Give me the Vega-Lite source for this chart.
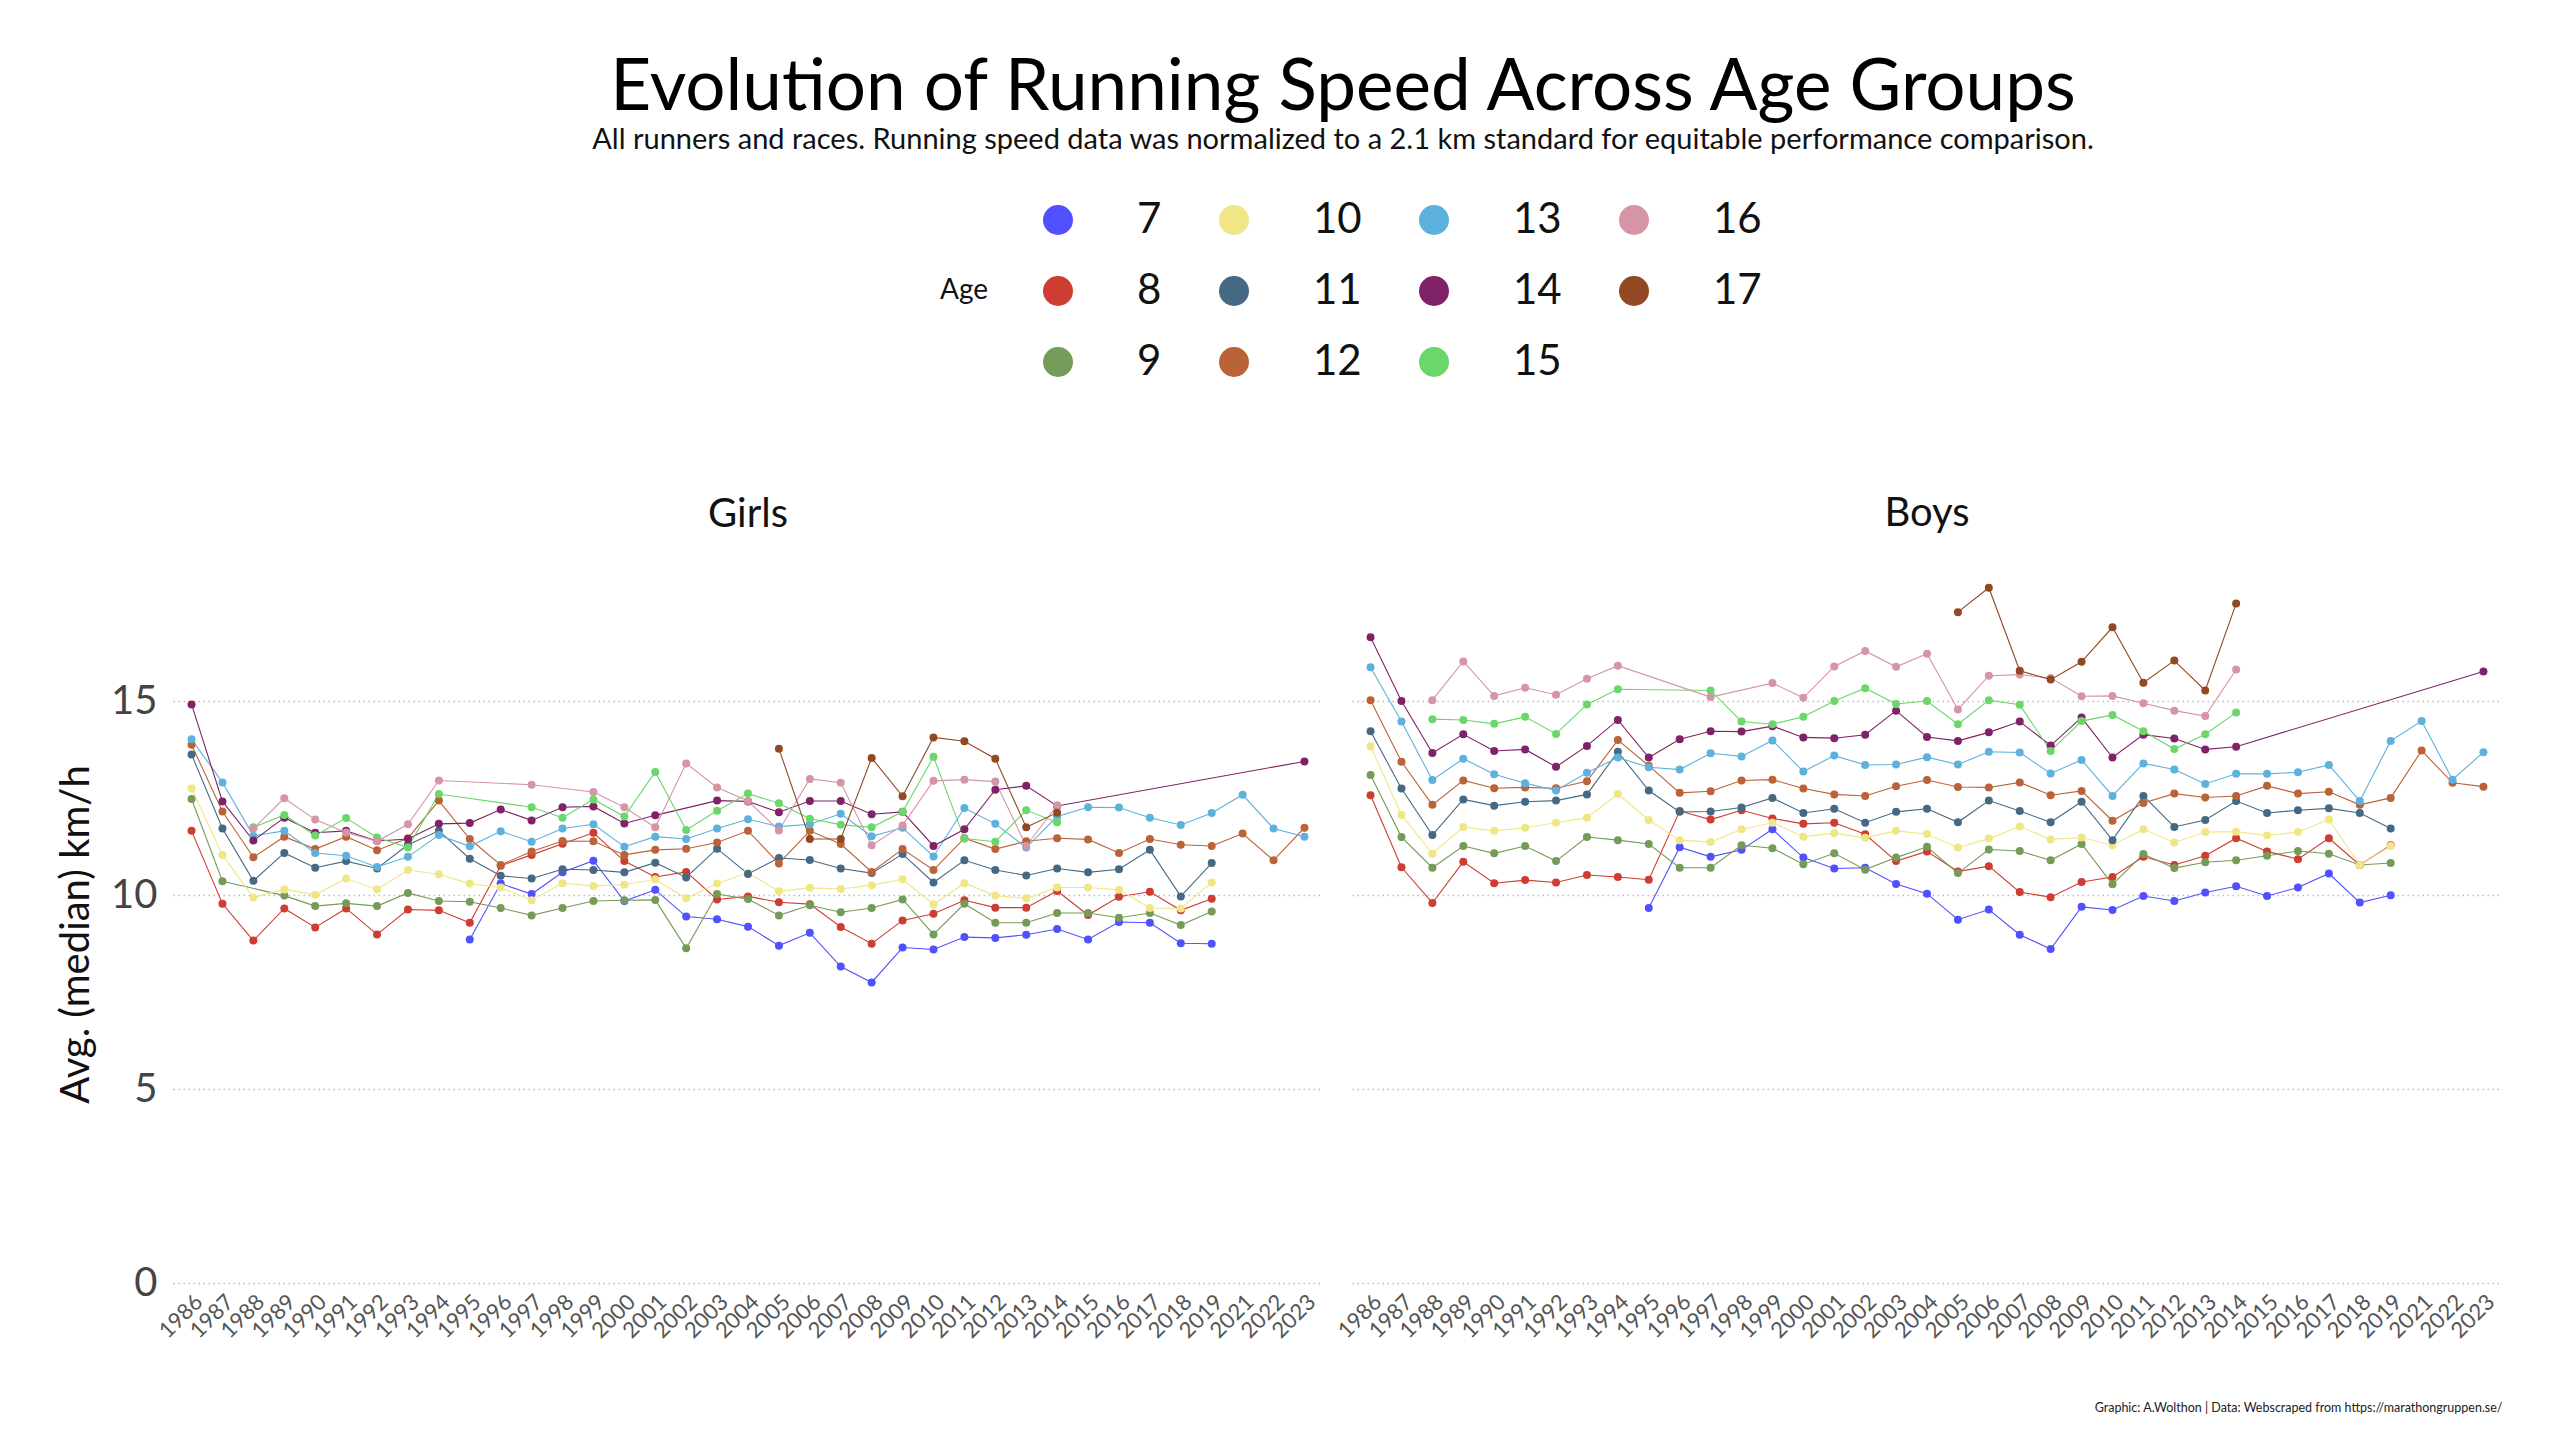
{
  "$schema": "https://vega.github.io/schema/vega-lite/v6.json",
  "background": "white",
  "padding": {"left": 56, "top": 53, "right": 20, "bottom": 10},
  "config": {"font": "Lato", "view": {"stroke": null}},
  "title": {"text": "Evolution of Running Speed Across Age Groups", "subtitle": "All runners and races. Running speed data was normalized to a 2.1 km standard for equitable performance comparison.", "anchor": "middle", "frame": "group", "dx": 1170, "fontSize": 71, "fontWeight": "normal", "color": "#000", "subtitleFontSize": 29, "subtitleColor": "#111", "subtitlePadding": 1, "offset": 43},
  "datasets": {
    "girls": [
      {"age":7,"year":"1995","speed":8.86},{"age":7,"year":"1996","speed":10.30},{"age":7,"year":"1997","speed":10.03},{"age":7,"year":"1998","speed":10.59},{"age":7,"year":"1999","speed":10.89},{"age":7,"year":"2000","speed":9.85},{"age":7,"year":"2001","speed":10.14},{"age":7,"year":"2002","speed":9.45},{"age":7,"year":"2003","speed":9.38},{"age":7,"year":"2004","speed":9.19},{"age":7,"year":"2005","speed":8.70},{"age":7,"year":"2006","speed":9.03},{"age":7,"year":"2007","speed":8.16},{"age":7,"year":"2008","speed":7.75},{"age":7,"year":"2009","speed":8.65},{"age":7,"year":"2010","speed":8.60},{"age":7,"year":"2011","speed":8.92},{"age":7,"year":"2012","speed":8.90},{"age":7,"year":"2013","speed":8.98},{"age":7,"year":"2014","speed":9.13},{"age":7,"year":"2015","speed":8.86},{"age":7,"year":"2016","speed":9.31},{"age":7,"year":"2017","speed":9.29},{"age":7,"year":"2018","speed":8.76},{"age":7,"year":"2019","speed":8.75},
      {"age":8,"year":"1986","speed":11.66},{"age":8,"year":"1987","speed":9.78},{"age":8,"year":"1988","speed":8.83},{"age":8,"year":"1989","speed":9.66},{"age":8,"year":"1990","speed":9.17},{"age":8,"year":"1991","speed":9.66},{"age":8,"year":"1992","speed":8.99},{"age":8,"year":"1993","speed":9.63},{"age":8,"year":"1994","speed":9.61},{"age":8,"year":"1995","speed":9.29},{"age":8,"year":"1996","speed":10.76},{"age":8,"year":"1997","speed":11.04},{"age":8,"year":"1998","speed":11.33},{"age":8,"year":"1999","speed":11.61},{"age":8,"year":"2000","speed":10.88},{"age":8,"year":"2001","speed":10.47},{"age":8,"year":"2002","speed":10.60},{"age":8,"year":"2003","speed":9.89},{"age":8,"year":"2004","speed":9.97},{"age":8,"year":"2005","speed":9.82},{"age":8,"year":"2006","speed":9.77},{"age":8,"year":"2007","speed":9.18},{"age":8,"year":"2008","speed":8.75},{"age":8,"year":"2009","speed":9.35},{"age":8,"year":"2010","speed":9.52},{"age":8,"year":"2011","speed":9.87},{"age":8,"year":"2012","speed":9.68},{"age":8,"year":"2013","speed":9.68},{"age":8,"year":"2014","speed":10.11},{"age":8,"year":"2015","speed":9.49},{"age":8,"year":"2016","speed":9.96},{"age":8,"year":"2017","speed":10.09},{"age":8,"year":"2018","speed":9.61},{"age":8,"year":"2019","speed":9.91},
      {"age":9,"year":"1986","speed":12.48},{"age":9,"year":"1987","speed":10.36},{"age":9,"year":"1989","speed":9.99},{"age":9,"year":"1990","speed":9.72},{"age":9,"year":"1991","speed":9.79},{"age":9,"year":"1992","speed":9.72},{"age":9,"year":"1993","speed":10.06},{"age":9,"year":"1994","speed":9.85},{"age":9,"year":"1995","speed":9.83},{"age":9,"year":"1996","speed":9.67},{"age":9,"year":"1997","speed":9.48},{"age":9,"year":"1998","speed":9.67},{"age":9,"year":"1999","speed":9.85},{"age":9,"year":"2000","speed":9.87},{"age":9,"year":"2001","speed":9.88},{"age":9,"year":"2002","speed":8.63},{"age":9,"year":"2003","speed":10.03},{"age":9,"year":"2004","speed":9.90},{"age":9,"year":"2005","speed":9.48},{"age":9,"year":"2006","speed":9.74},{"age":9,"year":"2007","speed":9.56},{"age":9,"year":"2008","speed":9.67},{"age":9,"year":"2009","speed":9.89},{"age":9,"year":"2010","speed":8.99},{"age":9,"year":"2011","speed":9.78},{"age":9,"year":"2012","speed":9.29},{"age":9,"year":"2013","speed":9.29},{"age":9,"year":"2014","speed":9.54},{"age":9,"year":"2015","speed":9.54},{"age":9,"year":"2016","speed":9.42},{"age":9,"year":"2017","speed":9.54},{"age":9,"year":"2018","speed":9.23},{"age":9,"year":"2019","speed":9.58},
      {"age":10,"year":"1986","speed":12.75},{"age":10,"year":"1987","speed":11.04},{"age":10,"year":"1988","speed":9.94},{"age":10,"year":"1989","speed":10.15},{"age":10,"year":"1990","speed":10.01},{"age":10,"year":"1991","speed":10.43},{"age":10,"year":"1992","speed":10.15},{"age":10,"year":"1993","speed":10.65},{"age":10,"year":"1994","speed":10.54},{"age":10,"year":"1995","speed":10.30},{"age":10,"year":"1996","speed":10.20},{"age":10,"year":"1997","speed":9.87},{"age":10,"year":"1998","speed":10.31},{"age":10,"year":"1999","speed":10.24},{"age":10,"year":"2000","speed":10.27},{"age":10,"year":"2001","speed":10.41},{"age":10,"year":"2002","speed":9.92},{"age":10,"year":"2003","speed":10.30},{"age":10,"year":"2004","speed":10.58},{"age":10,"year":"2005","speed":10.10},{"age":10,"year":"2006","speed":10.19},{"age":10,"year":"2007","speed":10.16},{"age":10,"year":"2008","speed":10.26},{"age":10,"year":"2009","speed":10.41},{"age":10,"year":"2010","speed":9.76},{"age":10,"year":"2011","speed":10.31},{"age":10,"year":"2012","speed":9.99},{"age":10,"year":"2013","speed":9.92},{"age":10,"year":"2014","speed":10.20},{"age":10,"year":"2015","speed":10.20},{"age":10,"year":"2016","speed":10.14},{"age":10,"year":"2017","speed":9.67},{"age":10,"year":"2018","speed":9.66},{"age":10,"year":"2019","speed":10.33},
      {"age":11,"year":"1986","speed":13.63},{"age":11,"year":"1987","speed":11.72},{"age":11,"year":"1988","speed":10.37},{"age":11,"year":"1989","speed":11.09},{"age":11,"year":"1990","speed":10.71},{"age":11,"year":"1991","speed":10.88},{"age":11,"year":"1992","speed":10.69},{"age":11,"year":"1993","speed":11.30},{"age":11,"year":"1994","speed":11.66},{"age":11,"year":"1995","speed":10.94},{"age":11,"year":"1996","speed":10.50},{"age":11,"year":"1997","speed":10.43},{"age":11,"year":"1998","speed":10.67},{"age":11,"year":"1999","speed":10.65},{"age":11,"year":"2000","speed":10.59},{"age":11,"year":"2001","speed":10.84},{"age":11,"year":"2002","speed":10.46},{"age":11,"year":"2003","speed":11.20},{"age":11,"year":"2004","speed":10.55},{"age":11,"year":"2005","speed":10.96},{"age":11,"year":"2006","speed":10.91},{"age":11,"year":"2007","speed":10.69},{"age":11,"year":"2008","speed":10.57},{"age":11,"year":"2009","speed":11.06},{"age":11,"year":"2010","speed":10.33},{"age":11,"year":"2011","speed":10.90},{"age":11,"year":"2012","speed":10.65},{"age":11,"year":"2013","speed":10.51},{"age":11,"year":"2014","speed":10.69},{"age":11,"year":"2015","speed":10.59},{"age":11,"year":"2016","speed":10.67},{"age":11,"year":"2017","speed":11.17},{"age":11,"year":"2018","speed":9.97},{"age":11,"year":"2019","speed":10.83},
      {"age":12,"year":"1986","speed":13.88},{"age":12,"year":"1987","speed":12.16},{"age":12,"year":"1988","speed":10.98},{"age":12,"year":"1989","speed":11.51},{"age":12,"year":"1990","speed":11.19},{"age":12,"year":"1991","speed":11.51},{"age":12,"year":"1992","speed":11.16},{"age":12,"year":"1993","speed":11.47},{"age":12,"year":"1994","speed":12.44},{"age":12,"year":"1995","speed":11.45},{"age":12,"year":"1996","speed":10.78},{"age":12,"year":"1997","speed":11.13},{"age":12,"year":"1998","speed":11.40},{"age":12,"year":"1999","speed":11.39},{"age":12,"year":"2000","speed":11.04},{"age":12,"year":"2001","speed":11.17},{"age":12,"year":"2002","speed":11.20},{"age":12,"year":"2003","speed":11.36},{"age":12,"year":"2004","speed":11.66},{"age":12,"year":"2005","speed":10.82},{"age":12,"year":"2006","speed":11.66},{"age":12,"year":"2007","speed":11.32},{"age":12,"year":"2008","speed":10.60},{"age":12,"year":"2009","speed":11.19},{"age":12,"year":"2010","speed":10.65},{"age":12,"year":"2011","speed":11.47},{"age":12,"year":"2012","speed":11.19},{"age":12,"year":"2013","speed":11.39},{"age":12,"year":"2014","speed":11.47},{"age":12,"year":"2015","speed":11.44},{"age":12,"year":"2016","speed":11.09},{"age":12,"year":"2017","speed":11.45},{"age":12,"year":"2018","speed":11.30},{"age":12,"year":"2019","speed":11.27},{"age":12,"year":"2021","speed":11.59},{"age":12,"year":"2022","speed":10.90},{"age":12,"year":"2023","speed":11.74},
      {"age":13,"year":"1986","speed":14.02},{"age":13,"year":"1987","speed":12.91},{"age":13,"year":"1988","speed":11.53},{"age":13,"year":"1989","speed":11.66},{"age":13,"year":"1990","speed":11.09},{"age":13,"year":"1991","speed":11.02},{"age":13,"year":"1992","speed":10.73},{"age":13,"year":"1993","speed":10.99},{"age":13,"year":"1994","speed":11.55},{"age":13,"year":"1995","speed":11.26},{"age":13,"year":"1996","speed":11.65},{"age":13,"year":"1997","speed":11.38},{"age":13,"year":"1998","speed":11.72},{"age":13,"year":"1999","speed":11.83},{"age":13,"year":"2000","speed":11.25},{"age":13,"year":"2001","speed":11.51},{"age":13,"year":"2002","speed":11.45},{"age":13,"year":"2003","speed":11.72},{"age":13,"year":"2004","speed":11.96},{"age":13,"year":"2005","speed":11.77},{"age":13,"year":"2006","speed":11.83},{"age":13,"year":"2007","speed":12.10},{"age":13,"year":"2008","speed":11.52},{"age":13,"year":"2009","speed":11.74},{"age":13,"year":"2010","speed":11.00},{"age":13,"year":"2011","speed":12.25},{"age":13,"year":"2012","speed":11.84},{"age":13,"year":"2013","speed":11.23},{"age":13,"year":"2014","speed":12.03},{"age":13,"year":"2015","speed":12.27},{"age":13,"year":"2016","speed":12.26},{"age":13,"year":"2017","speed":12.00},{"age":13,"year":"2018","speed":11.81},{"age":13,"year":"2019","speed":12.12},{"age":13,"year":"2021","speed":12.59},{"age":13,"year":"2022","speed":11.72},{"age":13,"year":"2023","speed":11.51},
      {"age":14,"year":"1986","speed":14.92},{"age":14,"year":"1987","speed":12.42},{"age":14,"year":"1988","speed":11.41},{"age":14,"year":"1989","speed":12.00},{"age":14,"year":"1990","speed":11.61},{"age":14,"year":"1991","speed":11.66},{"age":14,"year":"1992","speed":11.40},{"age":14,"year":"1993","speed":11.45},{"age":14,"year":"1994","speed":11.84},{"age":14,"year":"1995","speed":11.86},{"age":14,"year":"1996","speed":12.21},{"age":14,"year":"1997","speed":11.93},{"age":14,"year":"1998","speed":12.27},{"age":14,"year":"1999","speed":12.29},{"age":14,"year":"2000","speed":11.85},{"age":14,"year":"2001","speed":12.06},{"age":14,"year":"2003","speed":12.44},{"age":14,"year":"2004","speed":12.42},{"age":14,"year":"2005","speed":12.14},{"age":14,"year":"2006","speed":12.43},{"age":14,"year":"2007","speed":12.43},{"age":14,"year":"2008","speed":12.09},{"age":14,"year":"2009","speed":12.15},{"age":14,"year":"2010","speed":11.27},{"age":14,"year":"2011","speed":11.70},{"age":14,"year":"2012","speed":12.72},{"age":14,"year":"2013","speed":12.82},{"age":14,"year":"2014","speed":12.30},{"age":14,"year":"2023","speed":13.45},
      {"age":15,"year":"1988","speed":11.75},{"age":15,"year":"1989","speed":12.07},{"age":15,"year":"1990","speed":11.54},{"age":15,"year":"1991","speed":11.99},{"age":15,"year":"1992","speed":11.49},{"age":15,"year":"1993","speed":11.23},{"age":15,"year":"1994","speed":12.61},{"age":15,"year":"1997","speed":12.27},{"age":15,"year":"1998","speed":12.00},{"age":15,"year":"1999","speed":12.47},{"age":15,"year":"2000","speed":12.03},{"age":15,"year":"2001","speed":13.18},{"age":15,"year":"2002","speed":11.68},{"age":15,"year":"2003","speed":12.18},{"age":15,"year":"2004","speed":12.62},{"age":15,"year":"2005","speed":12.37},{"age":15,"year":"2006","speed":11.97},{"age":15,"year":"2007","speed":11.82},{"age":15,"year":"2008","speed":11.75},{"age":15,"year":"2009","speed":12.15},{"age":15,"year":"2010","speed":13.57},{"age":15,"year":"2011","speed":11.46},{"age":15,"year":"2012","speed":11.38},{"age":15,"year":"2013","speed":12.19},{"age":15,"year":"2014","speed":11.88},
      {"age":16,"year":"1988","speed":11.72},{"age":16,"year":"1989","speed":12.50},{"age":16,"year":"1990","speed":11.95},{"age":16,"year":"1991","speed":11.62},{"age":16,"year":"1992","speed":11.39},{"age":16,"year":"1993","speed":11.83},{"age":16,"year":"1994","speed":12.96},{"age":16,"year":"1997","speed":12.85},{"age":16,"year":"1999","speed":12.66},{"age":16,"year":"2000","speed":12.27},{"age":16,"year":"2001","speed":11.75},{"age":16,"year":"2002","speed":13.40},{"age":16,"year":"2003","speed":12.78},{"age":16,"year":"2004","speed":12.43},{"age":16,"year":"2005","speed":11.67},{"age":16,"year":"2006","speed":13.00},{"age":16,"year":"2007","speed":12.90},{"age":16,"year":"2008","speed":11.29},{"age":16,"year":"2009","speed":11.80},{"age":16,"year":"2010","speed":12.95},{"age":16,"year":"2011","speed":12.98},{"age":16,"year":"2012","speed":12.93},{"age":16,"year":"2013","speed":11.27},{"age":16,"year":"2014","speed":12.32},
      {"age":17,"year":"2005","speed":13.78},{"age":17,"year":"2006","speed":11.45},{"age":17,"year":"2007","speed":11.45},{"age":17,"year":"2008","speed":13.54},{"age":17,"year":"2009","speed":12.55},{"age":17,"year":"2010","speed":14.07},{"age":17,"year":"2011","speed":13.97},{"age":17,"year":"2012","speed":13.52},{"age":17,"year":"2013","speed":11.75},{"age":17,"year":"2014","speed":12.13}
    ],
    "boys": [
      {"age":7,"year":"1995","speed":9.67},{"age":7,"year":"1996","speed":11.24},{"age":7,"year":"1997","speed":10.99},{"age":7,"year":"1998","speed":11.17},{"age":7,"year":"1999","speed":11.70},{"age":7,"year":"2000","speed":10.97},{"age":7,"year":"2001","speed":10.69},{"age":7,"year":"2002","speed":10.71},{"age":7,"year":"2003","speed":10.29},{"age":7,"year":"2004","speed":10.04},{"age":7,"year":"2005","speed":9.37},{"age":7,"year":"2006","speed":9.63},{"age":7,"year":"2007","speed":8.98},{"age":7,"year":"2008","speed":8.61},{"age":7,"year":"2009","speed":9.70},{"age":7,"year":"2010","speed":9.62},{"age":7,"year":"2011","speed":9.98},{"age":7,"year":"2012","speed":9.85},{"age":7,"year":"2013","speed":10.07},{"age":7,"year":"2014","speed":10.23},{"age":7,"year":"2015","speed":9.98},{"age":7,"year":"2016","speed":10.20},{"age":7,"year":"2017","speed":10.56},{"age":7,"year":"2018","speed":9.81},{"age":7,"year":"2019","speed":10.00},
      {"age":8,"year":"1986","speed":12.58},{"age":8,"year":"1987","speed":10.72},{"age":8,"year":"1988","speed":9.80},{"age":8,"year":"1989","speed":10.86},{"age":8,"year":"1990","speed":10.31},{"age":8,"year":"1991","speed":10.39},{"age":8,"year":"1992","speed":10.33},{"age":8,"year":"1993","speed":10.52},{"age":8,"year":"1994","speed":10.47},{"age":8,"year":"1995","speed":10.40},{"age":8,"year":"1996","speed":12.17},{"age":8,"year":"1997","speed":11.95},{"age":8,"year":"1998","speed":12.19},{"age":8,"year":"1999","speed":11.98},{"age":8,"year":"2000","speed":11.84},{"age":8,"year":"2001","speed":11.87},{"age":8,"year":"2002","speed":11.57},{"age":8,"year":"2003","speed":10.88},{"age":8,"year":"2004","speed":11.13},{"age":8,"year":"2005","speed":10.61},{"age":8,"year":"2006","speed":10.75},{"age":8,"year":"2007","speed":10.08},{"age":8,"year":"2008","speed":9.95},{"age":8,"year":"2009","speed":10.34},{"age":8,"year":"2010","speed":10.47},{"age":8,"year":"2011","speed":10.99},{"age":8,"year":"2012","speed":10.78},{"age":8,"year":"2013","speed":11.02},{"age":8,"year":"2014","speed":11.47},{"age":8,"year":"2015","speed":11.13},{"age":8,"year":"2016","speed":10.93},{"age":8,"year":"2017","speed":11.47},{"age":8,"year":"2018","speed":10.78},{"age":8,"year":"2019","speed":11.29},
      {"age":9,"year":"1986","speed":13.10},{"age":9,"year":"1987","speed":11.50},{"age":9,"year":"1988","speed":10.71},{"age":9,"year":"1989","speed":11.27},{"age":9,"year":"1990","speed":11.08},{"age":9,"year":"1991","speed":11.27},{"age":9,"year":"1992","speed":10.88},{"age":9,"year":"1993","speed":11.50},{"age":9,"year":"1994","speed":11.42},{"age":9,"year":"1995","speed":11.32},{"age":9,"year":"1996","speed":10.71},{"age":9,"year":"1997","speed":10.71},{"age":9,"year":"1998","speed":11.29},{"age":9,"year":"1999","speed":11.21},{"age":9,"year":"2000","speed":10.80},{"age":9,"year":"2001","speed":11.08},{"age":9,"year":"2002","speed":10.66},{"age":9,"year":"2003","speed":10.97},{"age":9,"year":"2004","speed":11.25},{"age":9,"year":"2005","speed":10.57},{"age":9,"year":"2006","speed":11.18},{"age":9,"year":"2007","speed":11.14},{"age":9,"year":"2008","speed":10.90},{"age":9,"year":"2009","speed":11.32},{"age":9,"year":"2010","speed":10.28},{"age":9,"year":"2011","speed":11.06},{"age":9,"year":"2012","speed":10.70},{"age":9,"year":"2013","speed":10.85},{"age":9,"year":"2014","speed":10.90},{"age":9,"year":"2015","speed":11.02},{"age":9,"year":"2016","speed":11.14},{"age":9,"year":"2017","speed":11.07},{"age":9,"year":"2018","speed":10.78},{"age":9,"year":"2019","speed":10.83},
      {"age":10,"year":"1986","speed":13.84},{"age":10,"year":"1987","speed":12.07},{"age":10,"year":"1988","speed":11.07},{"age":10,"year":"1989","speed":11.76},{"age":10,"year":"1990","speed":11.66},{"age":10,"year":"1991","speed":11.74},{"age":10,"year":"1992","speed":11.87},{"age":10,"year":"1993","speed":12.00},{"age":10,"year":"1994","speed":12.61},{"age":10,"year":"1995","speed":11.94},{"age":10,"year":"1996","speed":11.42},{"age":10,"year":"1997","speed":11.37},{"age":10,"year":"1998","speed":11.70},{"age":10,"year":"1999","speed":11.87},{"age":10,"year":"2000","speed":11.51},{"age":10,"year":"2001","speed":11.60},{"age":10,"year":"2002","speed":11.48},{"age":10,"year":"2003","speed":11.66},{"age":10,"year":"2004","speed":11.58},{"age":10,"year":"2005","speed":11.23},{"age":10,"year":"2006","speed":11.46},{"age":10,"year":"2007","speed":11.77},{"age":10,"year":"2008","speed":11.44},{"age":10,"year":"2009","speed":11.49},{"age":10,"year":"2010","speed":11.29},{"age":10,"year":"2011","speed":11.70},{"age":10,"year":"2012","speed":11.36},{"age":10,"year":"2013","speed":11.63},{"age":10,"year":"2014","speed":11.64},{"age":10,"year":"2015","speed":11.54},{"age":10,"year":"2016","speed":11.63},{"age":10,"year":"2017","speed":11.95},{"age":10,"year":"2018","speed":10.78},{"age":10,"year":"2019","speed":11.27},
      {"age":11,"year":"1986","speed":14.23},{"age":11,"year":"1987","speed":12.75},{"age":11,"year":"1988","speed":11.55},{"age":11,"year":"1989","speed":12.47},{"age":11,"year":"1990","speed":12.31},{"age":11,"year":"1991","speed":12.41},{"age":11,"year":"1992","speed":12.44},{"age":11,"year":"1993","speed":12.60},{"age":11,"year":"1994","speed":13.70},{"age":11,"year":"1995","speed":12.70},{"age":11,"year":"1996","speed":12.15},{"age":11,"year":"1997","speed":12.16},{"age":11,"year":"1998","speed":12.26},{"age":11,"year":"1999","speed":12.51},{"age":11,"year":"2000","speed":12.12},{"age":11,"year":"2001","speed":12.23},{"age":11,"year":"2002","speed":11.87},{"age":11,"year":"2003","speed":12.15},{"age":11,"year":"2004","speed":12.23},{"age":11,"year":"2005","speed":11.88},{"age":11,"year":"2006","speed":12.44},{"age":11,"year":"2007","speed":12.17},{"age":11,"year":"2008","speed":11.88},{"age":11,"year":"2009","speed":12.41},{"age":11,"year":"2010","speed":11.42},{"age":11,"year":"2011","speed":12.56},{"age":11,"year":"2012","speed":11.76},{"age":11,"year":"2013","speed":11.94},{"age":11,"year":"2014","speed":12.43},{"age":11,"year":"2015","speed":12.12},{"age":11,"year":"2016","speed":12.19},{"age":11,"year":"2017","speed":12.24},{"age":11,"year":"2018","speed":12.12},{"age":11,"year":"2019","speed":11.72},
      {"age":12,"year":"1986","speed":15.03},{"age":12,"year":"1987","speed":13.44},{"age":12,"year":"1988","speed":12.33},{"age":12,"year":"1989","speed":12.96},{"age":12,"year":"1990","speed":12.76},{"age":12,"year":"1991","speed":12.78},{"age":12,"year":"1992","speed":12.76},{"age":12,"year":"1993","speed":12.94},{"age":12,"year":"1994","speed":14.00},{"age":12,"year":"1995","speed":13.34},{"age":12,"year":"1996","speed":12.64},{"age":12,"year":"1997","speed":12.68},{"age":12,"year":"1998","speed":12.96},{"age":12,"year":"1999","speed":12.98},{"age":12,"year":"2000","speed":12.75},{"age":12,"year":"2001","speed":12.60},{"age":12,"year":"2002","speed":12.56},{"age":12,"year":"2003","speed":12.81},{"age":12,"year":"2004","speed":12.97},{"age":12,"year":"2005","speed":12.79},{"age":12,"year":"2006","speed":12.78},{"age":12,"year":"2007","speed":12.91},{"age":12,"year":"2008","speed":12.58},{"age":12,"year":"2009","speed":12.69},{"age":12,"year":"2010","speed":11.92},{"age":12,"year":"2011","speed":12.38},{"age":12,"year":"2012","speed":12.62},{"age":12,"year":"2013","speed":12.52},{"age":12,"year":"2014","speed":12.56},{"age":12,"year":"2015","speed":12.82},{"age":12,"year":"2016","speed":12.62},{"age":12,"year":"2017","speed":12.67},{"age":12,"year":"2018","speed":12.33},{"age":12,"year":"2019","speed":12.51},{"age":12,"year":"2021","speed":13.73},{"age":12,"year":"2022","speed":12.90},{"age":12,"year":"2023","speed":12.80},
      {"age":13,"year":"1986","speed":15.88},{"age":13,"year":"1987","speed":14.48},{"age":13,"year":"1988","speed":12.97},{"age":13,"year":"1989","speed":13.52},{"age":13,"year":"1990","speed":13.12},{"age":13,"year":"1991","speed":12.89},{"age":13,"year":"1992","speed":12.70},{"age":13,"year":"1993","speed":13.16},{"age":13,"year":"1994","speed":13.55},{"age":13,"year":"1995","speed":13.30},{"age":13,"year":"1996","speed":13.24},{"age":13,"year":"1997","speed":13.66},{"age":13,"year":"1998","speed":13.58},{"age":13,"year":"1999","speed":13.99},{"age":13,"year":"2000","speed":13.19},{"age":13,"year":"2001","speed":13.60},{"age":13,"year":"2002","speed":13.36},{"age":13,"year":"2003","speed":13.37},{"age":13,"year":"2004","speed":13.56},{"age":13,"year":"2005","speed":13.37},{"age":13,"year":"2006","speed":13.70},{"age":13,"year":"2007","speed":13.68},{"age":13,"year":"2008","speed":13.14},{"age":13,"year":"2009","speed":13.49},{"age":13,"year":"2010","speed":12.56},{"age":13,"year":"2011","speed":13.40},{"age":13,"year":"2012","speed":13.24},{"age":13,"year":"2013","speed":12.87},{"age":13,"year":"2014","speed":13.13},{"age":13,"year":"2015","speed":13.13},{"age":13,"year":"2016","speed":13.17},{"age":13,"year":"2017","speed":13.36},{"age":13,"year":"2018","speed":12.43},{"age":13,"year":"2019","speed":13.98},{"age":13,"year":"2021","speed":14.49},{"age":13,"year":"2022","speed":12.98},{"age":13,"year":"2023","speed":13.69},
      {"age":14,"year":"1986","speed":16.65},{"age":14,"year":"1987","speed":15.01},{"age":14,"year":"1988","speed":13.67},{"age":14,"year":"1989","speed":14.15},{"age":14,"year":"1990","speed":13.72},{"age":14,"year":"1991","speed":13.76},{"age":14,"year":"1992","speed":13.31},{"age":14,"year":"1993","speed":13.85},{"age":14,"year":"1994","speed":14.52},{"age":14,"year":"1995","speed":13.55},{"age":14,"year":"1996","speed":14.02},{"age":14,"year":"1997","speed":14.23},{"age":14,"year":"1998","speed":14.22},{"age":14,"year":"1999","speed":14.36},{"age":14,"year":"2000","speed":14.07},{"age":14,"year":"2001","speed":14.05},{"age":14,"year":"2002","speed":14.14},{"age":14,"year":"2003","speed":14.76},{"age":14,"year":"2004","speed":14.08},{"age":14,"year":"2005","speed":13.98},{"age":14,"year":"2006","speed":14.20},{"age":14,"year":"2007","speed":14.48},{"age":14,"year":"2008","speed":13.86},{"age":14,"year":"2009","speed":14.58},{"age":14,"year":"2010","speed":13.55},{"age":14,"year":"2011","speed":14.14},{"age":14,"year":"2012","speed":14.04},{"age":14,"year":"2013","speed":13.76},{"age":14,"year":"2014","speed":13.83},{"age":14,"year":"2023","speed":15.77},
      {"age":15,"year":"1988","speed":14.54},{"age":15,"year":"1989","speed":14.52},{"age":15,"year":"1990","speed":14.42},{"age":15,"year":"1991","speed":14.60},{"age":15,"year":"1992","speed":14.16},{"age":15,"year":"1993","speed":14.92},{"age":15,"year":"1994","speed":15.31},{"age":15,"year":"1997","speed":15.28},{"age":15,"year":"1998","speed":14.48},{"age":15,"year":"1999","speed":14.41},{"age":15,"year":"2000","speed":14.60},{"age":15,"year":"2001","speed":15.01},{"age":15,"year":"2002","speed":15.34},{"age":15,"year":"2003","speed":14.93},{"age":15,"year":"2004","speed":15.01},{"age":15,"year":"2005","speed":14.41},{"age":15,"year":"2006","speed":15.03},{"age":15,"year":"2007","speed":14.91},{"age":15,"year":"2008","speed":13.72},{"age":15,"year":"2009","speed":14.49},{"age":15,"year":"2010","speed":14.65},{"age":15,"year":"2011","speed":14.23},{"age":15,"year":"2012","speed":13.77},{"age":15,"year":"2013","speed":14.15},{"age":15,"year":"2014","speed":14.71},
      {"age":16,"year":"1988","speed":15.03},{"age":16,"year":"1989","speed":16.03},{"age":16,"year":"1990","speed":15.14},{"age":16,"year":"1991","speed":15.35},{"age":16,"year":"1992","speed":15.17},{"age":16,"year":"1993","speed":15.58},{"age":16,"year":"1994","speed":15.92},{"age":16,"year":"1997","speed":15.11},{"age":16,"year":"1999","speed":15.47},{"age":16,"year":"2000","speed":15.09},{"age":16,"year":"2001","speed":15.90},{"age":16,"year":"2002","speed":16.30},{"age":16,"year":"2003","speed":15.89},{"age":16,"year":"2004","speed":16.23},{"age":16,"year":"2005","speed":14.79},{"age":16,"year":"2006","speed":15.66},{"age":16,"year":"2007","speed":15.69},{"age":16,"year":"2008","speed":15.60},{"age":16,"year":"2009","speed":15.13},{"age":16,"year":"2010","speed":15.14},{"age":16,"year":"2011","speed":14.95},{"age":16,"year":"2012","speed":14.76},{"age":16,"year":"2013","speed":14.62},{"age":16,"year":"2014","speed":15.82},
      {"age":17,"year":"2005","speed":17.30},{"age":17,"year":"2006","speed":17.93},{"age":17,"year":"2007","speed":15.79},{"age":17,"year":"2008","speed":15.56},{"age":17,"year":"2009","speed":16.02},{"age":17,"year":"2010","speed":16.91},{"age":17,"year":"2011","speed":15.48},{"age":17,"year":"2012","speed":16.05},{"age":17,"year":"2013","speed":15.28},{"age":17,"year":"2014","speed":17.52}
    ]
  },
  "spacing": 10,
  "hconcat": [
    {
      "title": {"text": "Girls", "fontSize": 40, "fontWeight": "normal", "color": "#111", "anchor": "middle", "offset": 50},
      "data": {"name": "girls"},
      "width": 1150,
      "height": 698,
      "layer": [
        {"mark": {"type": "line", "strokeWidth": 1.1}},
        {"mark": {"type": "point", "filled": true, "size": 64, "opacity": 1}}
      ],
      "encoding": {
        "x": {"field": "year", "type": "ordinal", "scale": {"type": "point", "padding": 0.6}, "axis": {"title": null, "labelAngle": -45, "labelFontSize": 22, "labelColor": "#555", "labelPadding": 8, "domain": false, "ticks": false, "grid": false}},
        "y": {"field": "speed", "type": "quantitative", "scale": {"domain": [0, 18], "nice": false}, "axis": {"title": "Avg. (median) km/h", "titleFontSize": 40, "titleFontWeight": "normal", "titleColor": "#111", "titlePadding": 14, "values": [0, 5, 10, 15], "labelFontSize": 40, "labelColor": "#444", "labelPadding": 16, "domain": false, "ticks": false, "grid": true, "gridColor": "#bbbbbb", "gridDash": [1.5, 3.5], "gridWidth": 1.5}},
        "color": {"field": "age", "type": "nominal", "scale": {"domain": [7, 8, 9, 10, 11, 12, 13, 14, 15, 16, 17], "range": ["#5050FF", "#CE3D32", "#749B58", "#F0E685", "#466983", "#BA6338", "#5DB1DD", "#802268", "#6BD76B", "#D595A7", "#924822"]}, "legend": {"orient": "none", "legendX": 767, "legendY": -386, "columns": 4, "title": "Age", "titleOrient": "left", "titleAnchor": "middle", "titleFontSize": 28, "titleFontWeight": "normal", "titleColor": "#111", "titlePadding": 48, "labelFontSize": 42, "labelColor": "#111", "symbolType": "circle", "symbolSize": 900, "symbolStrokeWidth": 0, "symbolOpacity": 1, "labelOffset": 58, "columnPadding": 51, "rowPadding": 29}}
      }
    },
    {
      "title": {"text": "Boys", "fontSize": 40, "fontWeight": "normal", "color": "#111", "anchor": "middle", "offset": 50},
      "data": {"name": "boys"},
      "width": 1150,
      "height": 698,
      "layer": [
        {"mark": {"type": "line", "strokeWidth": 1.1}},
        {"mark": {"type": "point", "filled": true, "size": 64, "opacity": 1}}
      ],
      "encoding": {
        "x": {"field": "year", "type": "ordinal", "scale": {"type": "point", "padding": 0.6}, "axis": {"title": "Graphic: A.Wolthon | Data: Webscraped from https://marathongruppen.se/", "titleAnchor": "end", "titleFontSize": 12.5, "titleFontWeight": "normal", "titleColor": "#222", "titlePadding": 60, "labelAngle": -45, "labelFontSize": 22, "labelColor": "#555", "labelPadding": 8, "domain": false, "ticks": false, "grid": false}},
        "y": {"field": "speed", "type": "quantitative", "scale": {"domain": [0, 18], "nice": false}, "axis": {"title": null, "labels": false, "values": [0, 5, 10, 15], "domain": false, "ticks": false, "grid": true, "gridColor": "#bbbbbb", "gridDash": [1.5, 3.5], "gridWidth": 1.5}},
        "color": {"field": "age", "type": "nominal"}
      }
    }
  ]
}
